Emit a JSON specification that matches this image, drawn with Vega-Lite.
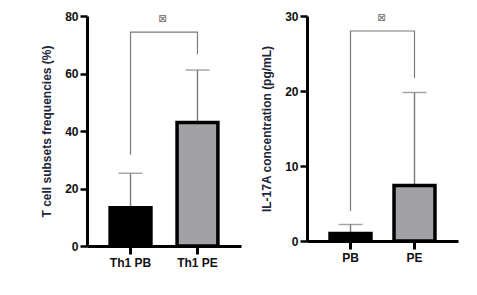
{
  "$schema": "https://vega.github.io/schema/vega-lite/v6.json",
  "background": "white",
  "padding": {"left": 40, "top": 10, "right": 5, "bottom": 5},
  "spacing": 19,
  "config": {
    "view": {"stroke": null},
    "font": "Liberation Sans",
    "axis": {
      "domainColor": "black", "domainWidth": 3, "tickColor": "black",
      "labelFont": "Liberation Sans", "labelFontWeight": "bold", "labelFontSize": 12, "labelColor": "#111111",
      "titleFont": "Liberation Sans", "titleFontWeight": "bold", "titleFontSize": 12, "titleColor": "#22263a",
      "grid": false
    }
  },
  "datasets": {
    "left": [
      {"g": "Th1 PB", "mean": 13.3, "upper": 25.3},
      {"g": "Th1 PE", "mean": 43, "upper": 61.2}
    ],
    "leftBracket": [
      {"g": "Th1 PB", "y": 31.7, "o": 1},
      {"g": "Th1 PB", "y": 74.4, "o": 2},
      {"g": "Th1 PE", "y": 74.4, "o": 3},
      {"g": "Th1 PE", "y": 66.7, "o": 4}
    ],
    "leftStar": [{"g": "Th1 PB", "y": 79, "t": "⊠"}],
    "right": [
      {"g": "PB", "mean": 1.0, "upper": 2.2},
      {"g": "PE", "mean": 7.4, "upper": 19.8}
    ],
    "rightBracket": [
      {"g": "PB", "y": 4.0, "o": 1},
      {"g": "PB", "y": 28.0, "o": 2},
      {"g": "PE", "y": 28.0, "o": 3},
      {"g": "PE", "y": 21.7, "o": 4}
    ],
    "rightStar": [{"g": "PB", "y": 29.8, "t": "⊠"}]
  },
  "hconcat": [
    {
      "width": 154,
      "height": 230,
      "encoding": {
        "x": {
          "field": "g", "type": "nominal", "sort": ["Th1 PB", "Th1 PE"],
          "scale": {"paddingInner": 0.39, "paddingOuter": 0.345, "domain": ["Th1 PB", "Th1 PE"]},
          "axis": {"title": null, "labelAngle": 0, "tickSize": 8, "tickWidth": 3, "labelPadding": 3}
        }
      },
      "layer": [
        {
          "data": {"name": "left"},
          "mark": {"type": "rule", "color": "#7a7a7a", "strokeWidth": 1.4},
          "encoding": {
            "y": {"field": "mean", "type": "quantitative", "scale": {"domain": [0, 80]},
              "axis": {"title": "T cell subsets frequencies (%)", "values": [0, 20, 40, 60, 80], "tickSize": 7, "tickWidth": 2.5, "labelPadding": 2, "titlePadding": 11}},
            "y2": {"field": "upper"}
          }
        },
        {
          "data": {"name": "left"},
          "mark": {"type": "tick", "color": "#7a7a7a", "thickness": 1.4, "size": 24},
          "encoding": {"y": {"field": "upper", "type": "quantitative"}}
        },
        {
          "data": {"name": "left"},
          "mark": {"type": "bar", "stroke": "black", "strokeWidth": 3.5},
          "encoding": {
            "y": {"field": "mean", "type": "quantitative"},
            "color": {"field": "g", "type": "nominal", "scale": {"domain": ["Th1 PB", "Th1 PE"], "range": ["#000000", "#a2a2a6"]}, "legend": null}
          }
        },
        {
          "data": {"name": "leftBracket"},
          "mark": {"type": "line", "color": "#7a7a7a", "strokeWidth": 1.2},
          "encoding": {
            "y": {"field": "y", "type": "quantitative"},
            "order": {"field": "o", "type": "quantitative"}
          }
        },
        {
          "data": {"name": "leftStar"},
          "mark": {"type": "text", "font": "DejaVu Sans", "fontSize": 10, "color": "#666666", "dx": 32, "baseline": "middle"},
          "encoding": {
            "y": {"field": "y", "type": "quantitative"},
            "text": {"field": "t"}
          }
        }
      ]
    },
    {
      "width": 151,
      "height": 225,
      "encoding": {
        "x": {
          "field": "g", "type": "nominal", "sort": ["PB", "PE"],
          "scale": {"paddingInner": 0.36, "paddingOuter": 0.36, "domain": ["PB", "PE"]},
          "axis": {"title": null, "labelAngle": 0, "tickSize": 8, "tickWidth": 3, "labelPadding": 3}
        }
      },
      "layer": [
        {
          "data": {"name": "right"},
          "mark": {"type": "rule", "color": "#7a7a7a", "strokeWidth": 1.4},
          "encoding": {
            "y": {"field": "mean", "type": "quantitative", "scale": {"domain": [0, 30]},
              "axis": {"title": "IL-17A concentration (pg/mL)", "values": [0, 10, 20, 30], "tickSize": 7, "tickWidth": 2.5, "labelPadding": 2, "titlePadding": 11}},
            "y2": {"field": "upper"}
          }
        },
        {
          "data": {"name": "right"},
          "mark": {"type": "tick", "color": "#7a7a7a", "thickness": 1.4, "size": 24},
          "encoding": {"y": {"field": "upper", "type": "quantitative"}}
        },
        {
          "data": {"name": "right"},
          "mark": {"type": "bar", "stroke": "black", "strokeWidth": 3.5},
          "encoding": {
            "y": {"field": "mean", "type": "quantitative"},
            "color": {"field": "g", "type": "nominal", "scale": {"domain": ["PB", "PE"], "range": ["#000000", "#a2a2a6"]}, "legend": null}
          }
        },
        {
          "data": {"name": "rightBracket"},
          "mark": {"type": "line", "color": "#7a7a7a", "strokeWidth": 1.2},
          "encoding": {
            "y": {"field": "y", "type": "quantitative"},
            "order": {"field": "o", "type": "quantitative"}
          }
        },
        {
          "data": {"name": "rightStar"},
          "mark": {"type": "text", "font": "DejaVu Sans", "fontSize": 10, "color": "#666666", "dx": 31, "baseline": "middle"},
          "encoding": {
            "y": {"field": "y", "type": "quantitative"},
            "text": {"field": "t"}
          }
        }
      ]
    }
  ],
  "resolve": {"scale": {"color": "independent", "y": "independent", "x": "independent"}}
}
